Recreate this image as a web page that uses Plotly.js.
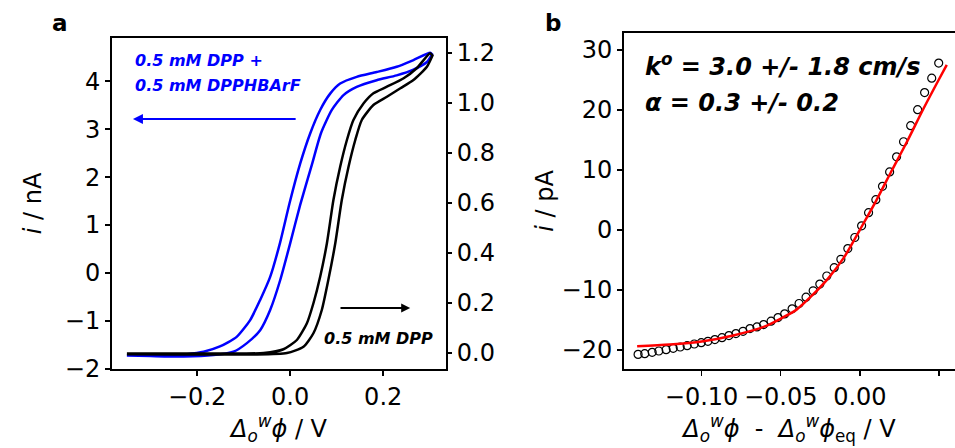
<!DOCTYPE html>
<html>
<head>
<meta charset="utf-8">
<script src="https://cdn.plot.ly/plotly-3.0.1.min.js"></script>
<style>html,body{margin:0;padding:0;background:#fff;overflow:hidden}#chart{width:955px;height:448px}</style>
</head>
<body>
<div id="chart"></div>
<script>
// ---- Panel a: cyclic voltammograms ----
// 0.5 mM DPP + 0.5 mM DPPHBArF (left axis, nA)
const blueFwdX = [-0.351, -0.3, -0.229, -0.165, -0.122, -0.093, -0.0645, -0.043, -0.0215, 0.0, 0.0215, 0.0467, 0.066, 0.0896, 0.1147, 0.143, 0.186, 0.229, 0.265, 0.294, 0.305];
const blueFwdY = [-1.72, -1.73, -1.74, -1.71, -1.64, -1.46, -1.19, -0.77, -0.15, 0.62, 1.42, 2.26, 2.91, 3.40, 3.71, 3.88, 4.02, 4.12, 4.24, 4.40, 4.56];
const blueRevX = [0.305, 0.301, 0.265, 0.229, 0.186, 0.143, 0.1075, 0.086, 0.0645, 0.043, 0.0215, -0.0015, -0.0215, -0.043, -0.0645, -0.086, -0.115, -0.151, -0.186, -0.222, -0.258, -0.3, -0.351];
const blueRevY = [4.56, 4.59, 4.44, 4.30, 4.19, 4.09, 3.95, 3.74, 3.40, 2.91, 2.28, 1.45, 0.64, -0.08, -0.56, -0.98, -1.33, -1.53, -1.64, -1.69, -1.71, -1.71, -1.71];
// 0.5 mM DPP (right axis)
const blackFwdX = [-0.351, -0.25, -0.15, -0.079, -0.007, 0.0286, 0.050, 0.068, 0.082, 0.097, 0.111, 0.1255, 0.140, 0.154, 0.179, 0.208, 0.237, 0.265, 0.294, 0.306];
const blackFwdY = [-0.005, -0.006, -0.006, -0.006, 0.0, 0.025, 0.079, 0.172, 0.292, 0.439, 0.612, 0.745, 0.852, 0.932, 0.992, 1.025, 1.059, 1.092, 1.145, 1.19];
const blackRevX = [0.306, 0.301, 0.272, 0.244, 0.208, 0.179, 0.158, 0.136, 0.122, 0.1075, 0.093, 0.079, 0.0645, 0.050, 0.036, 0.0144, -0.0144, -0.057, -0.15, -0.25, -0.351];
const blackRevY = [1.19, 1.199, 1.139, 1.099, 1.065, 1.039, 0.999, 0.932, 0.852, 0.745, 0.612, 0.439, 0.305, 0.199, 0.119, 0.052, 0.015, 0.0, -0.002, -0.002, -0.002];

// ---- Panel b: experimental points and fit ----
const expX = [-0.1401, -0.1359, -0.1312, -0.1270, -0.1224, -0.1179, -0.1135, -0.1091, -0.1046, -0.1002, -0.0960, -0.0916, -0.0871, -0.0827, -0.0783, -0.0738, -0.0694, -0.0650, -0.0608, -0.0561, -0.0517, -0.0475, -0.0428, -0.0384, -0.0340, -0.0295, -0.0253, -0.0209, -0.0162, -0.0120, -0.0076, -0.0032, 0.0011, 0.0055, 0.0101, 0.0143, 0.0188, 0.0232, 0.0276, 0.0321, 0.0365, 0.0409, 0.0454, 0.0498];
const expY = [-20.76, -20.65, -20.42, -20.2, -19.98, -19.75, -19.53, -19.31, -19.03, -18.81, -18.58, -18.30, -17.97, -17.63, -17.30, -16.91, -16.46, -16.18, -15.79, -15.23, -14.62, -14.01, -13.17, -12.28, -11.22, -10.16, -9.04, -7.70, -6.31, -4.91, -3.13, -1.28, 0.67, 2.85, 5.02, 7.25, 9.65, 12.17, 14.68, 17.35, 20.03, 22.88, 25.28, 27.79];
const fitX = [-0.1407, -0.12, -0.10, -0.08, -0.06, -0.05, -0.04, -0.03, -0.02, -0.01, 0.0, 0.01, 0.02, 0.03, 0.04, 0.05, 0.0549];
const fitY = [-19.4, -19.1, -18.6, -17.6, -16.1, -14.8, -13.3, -10.9, -8.1, -4.6, 0.0, 4.7, 9.8, 14.8, 20.1, 25.1, 27.5];

const FONT = 'DejaVu Sans, sans-serif';
const TICKF = {family: FONT, size: 24, color: '#000'};
const TITLEF = {family: FONT, size: 24, color: '#000'};
const NB = '\u00A0';

const traces = [
  {x: blueFwdX.concat(blueRevX), y: blueFwdY.concat(blueRevY), type: 'scatter', mode: 'lines',
   line: {color: '#0000ff', width: 2.5, shape: 'spline', smoothing: 0.6}, xaxis: 'x', yaxis: 'y', hoverinfo: 'skip'},
  {x: blackFwdX.concat(blackRevX), y: blackFwdY.concat(blackRevY), type: 'scatter', mode: 'lines',
   line: {color: '#000000', width: 2.5, shape: 'spline', smoothing: 0.6}, xaxis: 'x', yaxis: 'y2', hoverinfo: 'skip'},
  {x: expX, y: expY, type: 'scatter', mode: 'markers',
   marker: {symbol: 'circle-open', size: 8, color: '#000', line: {width: 1.2, color: '#000'}}, xaxis: 'x3', yaxis: 'y3', hoverinfo: 'skip'},
  {x: fitX, y: fitY, type: 'scatter', mode: 'lines',
   line: {color: '#ff0000', width: 2.5, shape: 'spline', smoothing: 0.8}, xaxis: 'x3', yaxis: 'y3', hoverinfo: 'skip'}
];

const axBase = {showline: true, linecolor: '#000', linewidth: 2, ticks: 'outside', ticklen: 5, tickwidth: 1.5,
  tickcolor: '#000', showgrid: false, zeroline: false, tickfont: TICKF, automargin: false};

const layout = {
  width: 955, height: 448, margin: {l: 0, r: 0, t: 0, b: 0},
  paper_bgcolor: '#fff', plot_bgcolor: '#fff', showlegend: false,
  xaxis: Object.assign({}, axBase, {domain: [0.1173, 0.4670], range: [-0.383, 0.335], dtick: 0.2, tick0: 0,
    tickformat: '.1f', mirror: true, anchor: 'y',
    title: {text: NB + NB + '<i>Δ</i><sub><i>o</i></sub><sup><i>w</i></sup><i>ϕ</i> / V', font: TITLEF, standoff: 0}}),
  yaxis: Object.assign({}, axBase, {domain: [0.1763, 0.9152], range: [-2, 4.9], dtick: 1, tick0: 0, mirror: true, anchor: 'x',
    title: {text: '<i>i</i> / nA', font: TITLEF, standoff: 16}}),
  yaxis2: Object.assign({}, axBase, {domain: [0.1763, 0.9152], range: [-0.064, 1.26], dtick: 0.2, tick0: 0,
    tickformat: '.1f', overlaying: 'y', side: 'right', anchor: 'x', showline: false}),
  xaxis3: Object.assign({}, axBase, {domain: [0.6534, 1.0], range: [-0.149, 0.0601], dtick: 0.05, tick0: 0,
    tickformat: '.2f', mirror: true, anchor: 'y3',
    title: {text: NB + NB + NB + NB + '<i>Δ</i><sub><i>o</i></sub><sup><i>w</i></sup><i>ϕ</i>  -  <i>Δ</i><sub><i>o</i></sub><sup><i>w</i></sup><i>ϕ</i><sub>eq</sub> / V', font: TITLEF, standoff: 0}}),
  yaxis3: Object.assign({}, axBase, {domain: [0.1763, 0.9263], range: [-23.2, 32.8], dtick: 10, tick0: 0, anchor: 'x3',
    title: {text: '<i>i</i> / pA', font: TITLEF, standoff: 1}}),
  annotations: [
    {xref: 'paper', yref: 'paper', x: 60/955, y: 1 - 23/448, xanchor: 'center', yanchor: 'middle', text: '<b>a</b>', showarrow: false,
     font: {family: FONT, size: 23, color: '#000'}},
    {xref: 'paper', yref: 'paper', x: 553/955, y: 1 - 23/448, xanchor: 'center', yanchor: 'middle', text: '<b>b</b>', showarrow: false,
     font: {family: FONT, size: 23, color: '#000'}},
    {xref: 'x', yref: 'y', x: -0.338, y: 4.44, xanchor: 'left', text: '<b><i>0.5 mM DPP +</i></b>', showarrow: false,
     font: {family: FONT, size: 16, color: '#0000ff'}},
    {xref: 'x', yref: 'y', x: -0.338, y: 3.9, xanchor: 'left', text: '<b><i>0.5 mM DPPHBArF</i></b>', showarrow: false,
     font: {family: FONT, size: 16, color: '#0000ff'}},
    {xref: 'x', yref: 'y', x: -0.338, y: 3.21, ax: 0.015, ay: 3.21, axref: 'x', ayref: 'y', text: '', showarrow: true,
     arrowhead: 2, arrowsize: 1, arrowwidth: 2, arrowcolor: '#0000ff'},
    {xref: 'x', yref: 'y2', x: 0.258, y: 0.18, ax: 0.105, ay: 0.18, axref: 'x', ayref: 'y2', text: '', showarrow: true,
     arrowhead: 2, arrowsize: 1, arrowwidth: 1.8, arrowcolor: '#000'},
    {xref: 'x', yref: 'y2', x: 0.312, y: 0.06, xanchor: 'right', text: '<b><i>0.5 mM DPP</i></b>', showarrow: false,
     font: {family: FONT, size: 16, color: '#000'}},
    {xref: 'x3', yref: 'y3', x: -0.1367, y: 27.5, xanchor: 'left', text: '<b><i>k<sup>o</sup> = 3.0 +/- 1.8 cm/s</i></b>', showarrow: false,
     font: {family: FONT, size: 24, color: '#000'}},
    {xref: 'x3', yref: 'y3', x: -0.1367, y: 21.2, xanchor: 'left', text: '<b><i>α = 0.3 +/- 0.2</i></b>', showarrow: false,
     font: {family: FONT, size: 24, color: '#000'}}
  ]
};

Plotly.newPlot('chart', traces, layout, {staticPlot: true, displayModeBar: false});
</script>
</body>
</html>
